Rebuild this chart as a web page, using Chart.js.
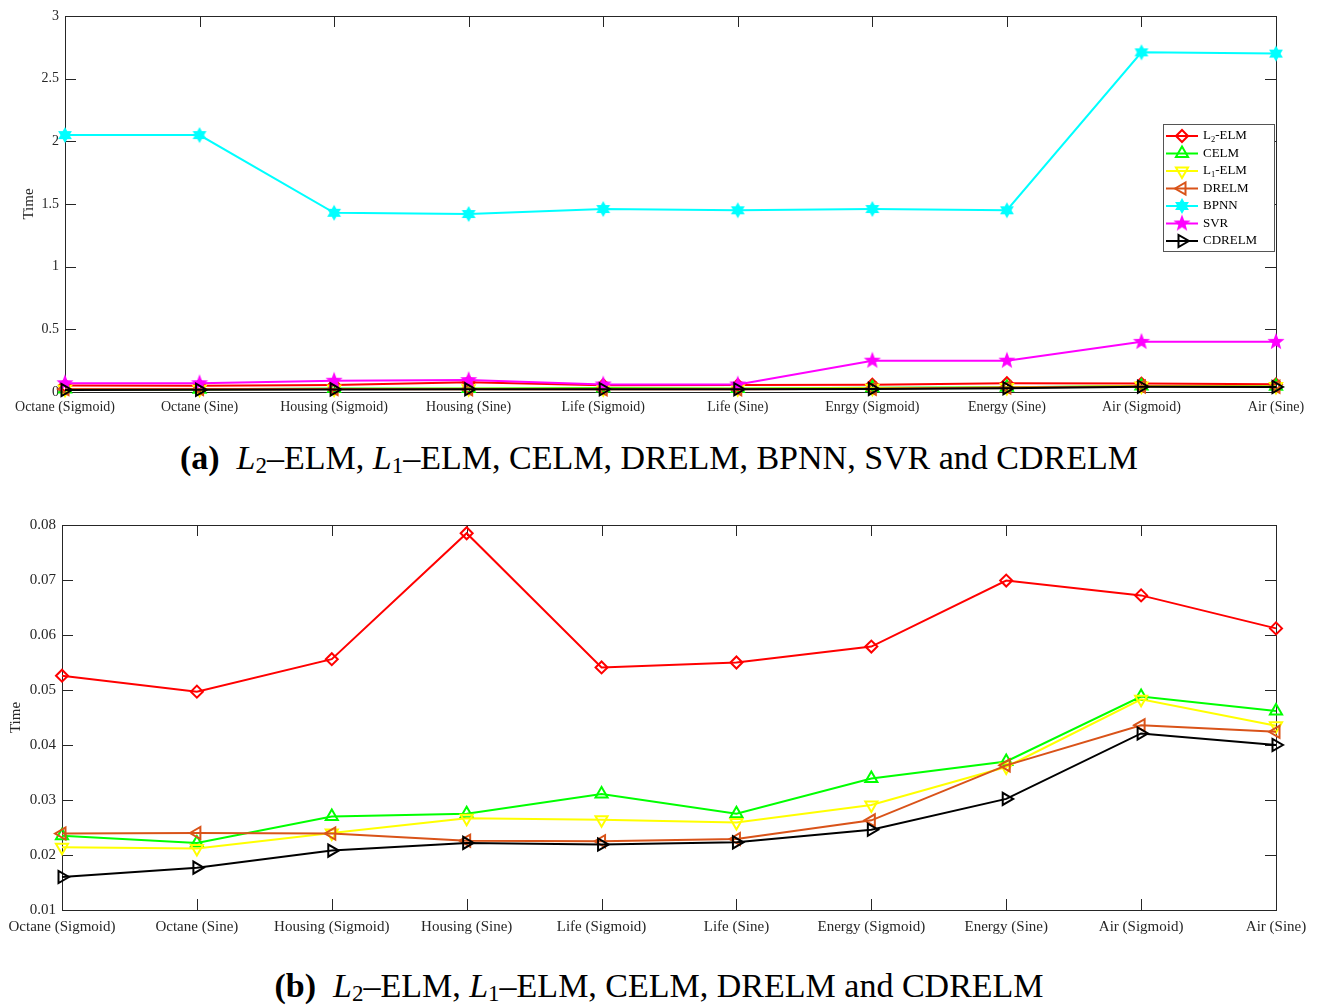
<!DOCTYPE html>
<html>
<head>
<meta charset="utf-8">
<script src="https://cdn.jsdelivr.net/npm/chart.js@4.4.0/dist/chart.umd.min.js"></script>
<style>
  body { margin: 0; background: #fff; width: 1318px; height: 1007px; position: relative; overflow: hidden; }
  .wrap { position: absolute; left: 0; width: 1318px; }
  .caption { position: absolute; left: 0; width: 1318px; text-align: center; font-family: "Liberation Serif", serif; font-size: 34px; color: #000; }
  .caption i sub { font-style: normal; font-size: 23px; vertical-align: -4px; }
</style>
</head>
<body>
<div class="wrap" style="top:0;height:420px"><canvas id="chartA"></canvas></div>
<div class="caption" style="top:439px"><b>(a)</b>&nbsp; <i>L<sub>2</sub></i>–ELM, <i>L<sub>1</sub></i>–ELM, CELM, DRELM, BPNN, SVR and CDRELM</div>
<div class="wrap" style="top:500px;height:440px"><canvas id="chartB"></canvas></div>
<div class="caption" style="top:967px"><b>(b)</b>&nbsp; <i>L<sub>2</sub></i>–ELM, <i>L<sub>1</sub></i>–ELM, CELM, DRELM and CDRELM</div>
<script>
const categoriesA = ['Octane (Sigmoid)', 'Octane (Sine)', 'Housing (Sigmoid)', 'Housing (Sine)', 'Life (Sigmoid)',
  'Life (Sine)', 'Enrgy (Sigmoid)', 'Energy (Sine)', 'Air (Sigmoid)', 'Air (Sine)'];
const categoriesB = ['Octane (Sigmoid)', 'Octane (Sine)', 'Housing (Sigmoid)', 'Housing (Sine)', 'Life (Sigmoid)',
  'Life (Sine)', 'Energy (Sigmoid)', 'Energy (Sine)', 'Air (Sigmoid)', 'Air (Sine)'];

const l2elm = [0.0526, 0.0497, 0.0556, 0.0785, 0.0541, 0.0550, 0.0579, 0.0699, 0.0672, 0.0612];
const celm = [0.0235, 0.0222, 0.0270, 0.0275, 0.0311, 0.0275, 0.0339, 0.0370, 0.0488, 0.0462];
const l1elm = [0.0214, 0.0212, 0.0240, 0.0267, 0.0264, 0.0259, 0.0291, 0.0360, 0.0483, 0.0435];
const drelm = [0.0239, 0.0240, 0.0239, 0.0226, 0.0225, 0.0229, 0.0263, 0.0363, 0.0436, 0.0424];
const cdrelm = [0.0160, 0.0177, 0.0208, 0.0222, 0.0219, 0.0223, 0.0246, 0.0302, 0.0421, 0.0400];
const bpnn = [2.05, 2.05, 1.43, 1.42, 1.46, 1.45, 1.46, 1.45, 2.71, 2.70];
const svr = [0.07, 0.07, 0.09, 0.095, 0.06, 0.06, 0.25, 0.25, 0.40, 0.40];

const ticksA = [0, 0.5, 1, 1.5, 2, 2.5, 3];
const ticksB = [0.01, 0.02, 0.03, 0.04, 0.05, 0.06, 0.07, 0.08];

const FONT = 'Liberation Serif';
const AXIS = '#262626';

// filled star images for BPNN (hexagram) and SVR (pentagram)
const makeStar = (points, outer, inner, color) => {
  const c = document.createElement('canvas');
  const s = Math.ceil(outer * 2 + 2);
  c.width = s; c.height = s;
  const g = c.getContext('2d');
  g.beginPath();
  for (let i = 0; i < points * 2; i++) {
    const r = i % 2 === 0 ? outer : inner;
    const a = -Math.PI / 2 + i * Math.PI / points;
    const px = s / 2 + r * Math.cos(a);
    const py = s / 2 + r * Math.sin(a);
    if (i === 0) g.moveTo(px, py); else g.lineTo(px, py);
  }
  g.closePath();
  g.fillStyle = color;
  g.fill();
  return c;
};
const hexagram = makeStar(6, 8, 4.5, '#00ffff');
const pentagram = makeStar(5, 9, 3.8, '#ff00ff');

const mkSet = (label, data, color, style, rotation, radius) => ({
  label: label,
  data: data,
  borderColor: color,
  backgroundColor: 'rgba(0,0,0,0)',
  pointBorderColor: color,
  pointBackgroundColor: 'rgba(0,0,0,0)',
  borderWidth: 2,
  pointBorderWidth: 2,
  pointStyle: style,
  pointRotation: rotation,
  pointRadius: radius,
  tension: 0,
  clip: false,
});

const boxPlugin = {
  id: 'box',
  beforeDatasetsDraw(chart) {
    const {ctx, chartArea: a, scales: {x, y}} = chart;
    ctx.save();
    ctx.strokeStyle = AXIS;
    ctx.lineWidth = 1;
    ctx.strokeRect(a.left + 0.5, a.top + 0.5, a.right - a.left, a.bottom - a.top);
    ctx.beginPath();
    x.ticks.forEach((t, i) => {
      const px = Math.round(x.getPixelForTick(i)) + 0.5;
      ctx.moveTo(px, a.bottom); ctx.lineTo(px, a.bottom - 11);
      ctx.moveTo(px, a.top); ctx.lineTo(px, a.top + 11);
    });
    y.ticks.forEach((t, i) => {
      const py = Math.round(y.getPixelForTick(i)) + 0.5;
      ctx.moveTo(a.left, py); ctx.lineTo(a.left + 11, py);
      ctx.moveTo(a.right, py); ctx.lineTo(a.right - 11, py);
    });
    ctx.stroke();
    ctx.restore();
  }
};

// legend drawn inside the plot like matlab
const drawLegend = (chart, box) => {
  const {ctx} = chart;
  ctx.save();
  ctx.fillStyle = '#fff';
  ctx.fillRect(box.x, box.y, box.w, box.h);
  ctx.strokeStyle = '#555';
  ctx.lineWidth = 1;
  ctx.strokeRect(box.x + 0.5, box.y + 0.5, box.w, box.h);
  chart.data.datasets.forEach((ds, i) => {
    const yy = box.y + box.first + i * box.step;
    ctx.strokeStyle = ds.borderColor;
    ctx.lineWidth = 2;
    ctx.beginPath();
    ctx.moveTo(box.x + 3, yy);
    ctx.lineTo(box.x + 3 + box.line, yy);
    ctx.stroke();
    ctx.fillStyle = 'rgba(0,0,0,0)';
    Chart.helpers.drawPoint(ctx, {
      pointStyle: ds.pointStyle,
      rotation: ds.pointRotation || 0,
      radius: ds.pointRadius,
      borderWidth: 2,
    }, box.x + 3 + box.line / 2, yy);

    // label with subscript after L
    ctx.fillStyle = '#000';
    ctx.textBaseline = 'middle';
    ctx.font = box.font + 'px ' + FONT;
    let tx = box.x + box.line + 8;
    const m = ds.label.match(/^L(\d)(.*)$/);
    if (m) {
      ctx.fillText('L', tx, yy);
      tx += ctx.measureText('L').width;
      ctx.font = (box.font * 0.65) + 'px ' + FONT;
      ctx.fillText(m[1], tx, yy + 4);
      tx += ctx.measureText(m[1]).width;
      ctx.font = box.font + 'px ' + FONT;
      ctx.fillText(m[2], tx, yy);
    } else {
      ctx.fillText(ds.label, tx, yy);
    }
  });
  ctx.restore();
};

const buildOptions = (ticks, yMin, yMax, yWidth, xHeight, pad, tickFont, titlePad, xPad, legendBox) => ({
  responsive: false,
  animation: false,
  layout: {padding: pad},
  plugins: {
    legend: {display: false},
    tooltip: {enabled: false},
  },
  scales: {
    x: {
      type: 'category',
      offset: false,
      grid: {display: false, drawTicks: false},
      border: {display: false},
      ticks: {
        color: AXIS,
        font: {family: FONT, size: tickFont},
        padding: xPad,
        maxRotation: 0,
        autoSkip: false,
      },
      afterFit: (scale) => { scale.height = xHeight; },
    },
    y: {
      min: yMin,
      max: yMax,
      grid: {display: false, drawTicks: false},
      border: {display: false},
      afterBuildTicks: (scale) => { scale.ticks = ticks.map((v) => ({value: v})); },
      ticks: {
        color: AXIS,
        font: {family: FONT, size: tickFont},
        padding: 6,
        callback: (v) => String(+v.toFixed(3)),
      },
      title: {
        display: true,
        text: 'Time',
        color: AXIS,
        font: {family: FONT, size: 15},
        padding: titlePad,
      },
      afterFit: (scale) => { scale.width = yWidth; },
    },
  },
  legendBox: legendBox,
});

const legendPlugin = {
  id: 'boxLegend',
  afterDatasetsDraw(chart) {
    drawLegend(chart, chart.options.legendBox || chart.config.options.legendBox);
  }
};

const setsA = [
  mkSet('L2-ELM', l2elm, '#ff0000', 'rectRot', 0, 6),
  mkSet('CELM', celm, '#00ff00', 'triangle', 0, 7),
  mkSet('L1-ELM', l1elm, '#ffff00', 'triangle', 180, 7),
  mkSet('DRELM', drelm, '#d95319', 'triangle', 270, 7),
  mkSet('BPNN', bpnn, '#00ffff', hexagram, 0, 8),
  mkSet('SVR', svr, '#ff00ff', pentagram, 0, 9),
  mkSet('CDRELM', cdrelm, '#000000', 'triangle', 90, 7),
];
setsA.forEach((d, i) => { d.order = setsA.length - i; });

const canvasA = document.getElementById('chartA');
canvasA.width = 1318; canvasA.height = 420;
new Chart(canvasA, {
  type: 'line',
  data: {labels: categoriesA, datasets: setsA},
  options: buildOptions(ticksA, 0, 3, 65, 28, {top: 16, right: 42, bottom: 0, left: 0}, 14, {top: 20, bottom: 0}, 7,
    {x: 1163, y: 124, w: 111, h: 127, first: 12, step: 17.5, line: 32, font: 13}),
  plugins: [boxPlugin, legendPlugin],
});

const setsB = [
  mkSet('L2-ELM', l2elm, '#ff0000', 'rectRot', 0, 6),
  mkSet('CELM', celm, '#00ff00', 'triangle', 0, 7),
  mkSet('L1-ELM', l1elm, '#ffff00', 'triangle', 180, 7),
  mkSet('DRELM', drelm, '#d95319', 'triangle', 270, 7),
  mkSet('CDRELM', cdrelm, '#000000', 'triangle', 90, 7),
];
setsB.forEach((d, i) => { d.order = setsB.length - i; });

const canvasB = document.getElementById('chartB');
canvasB.width = 1318; canvasB.height = 440;
new Chart(canvasB, {
  type: 'line',
  data: {labels: categoriesB, datasets: setsB},
  options: buildOptions(ticksB, 0.01, 0.08, 62, 30, {top: 25, right: 42, bottom: 0, left: 0}, 15, {top: 7, bottom: 0}, 8,
    {x: 1153, y: 796, w: 105, h: 97, first: 12, step: 19, line: 34, font: 14}),
  plugins: [boxPlugin, legendPlugin],
});
</script>
</body>
</html>
